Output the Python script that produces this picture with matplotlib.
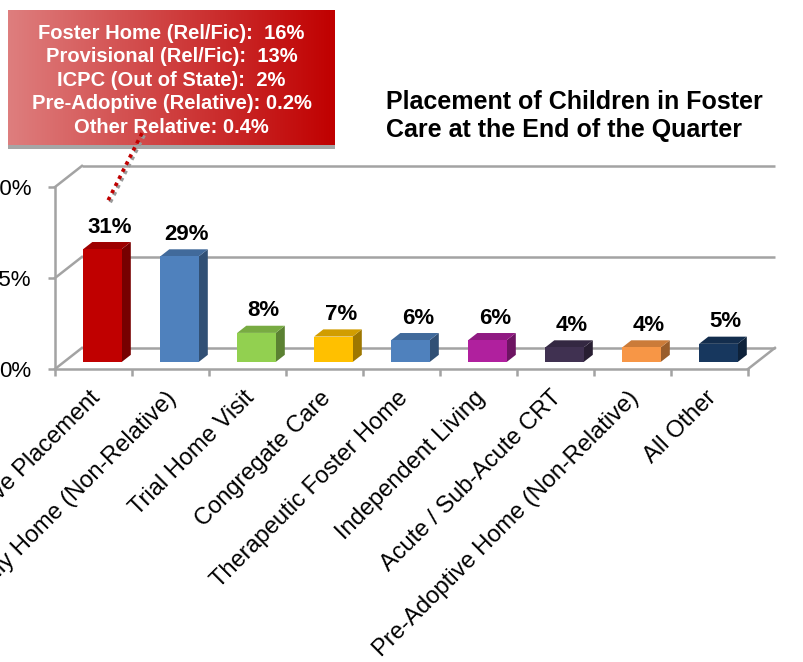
import numpy as np
import matplotlib
matplotlib.use("Agg")
import matplotlib.pyplot as plt
import matplotlib.patheffects as pe
from matplotlib.patches import Polygon, Rectangle
from matplotlib.colors import to_rgb

plt.rcParams['font.family'] = ['Liberation Sans', 'DejaVu Sans']

# data
categories = ['Relative Placement', 'Foster Family Home (Non-Relative)', 'Trial Home Visit',
              'Congregate Care', 'Therapeutic Foster Home', 'Independent Living',
              'Acute / Sub-Acute CRT', 'Pre-Adoptive Home (Non-Relative)', 'All Other']
values = [31, 29, 8, 7, 6, 6, 4, 4, 5]
bar_colors = ['#C00000', '#4F81BD', '#92D050', '#FFC000', '#4F81BD',
              '#B0209E', '#403151', '#F79646', '#17375E']
yticks = [0, 25, 50]
ytick_labels = ['0%', '25%', '50%']
title = 'Placement of Children in Foster\nCare at the End of the Quarter'
callout_lines = ['Foster Home (Rel/Fic):  16%', 'Provisional (Rel/Fic):  13%',
                 'ICPC (Out of State):  2%', 'Pre-Adoptive (Relative): 0.2%',
                 'Other Relative: 0.4%']

# 3d look: depth offset of the back wall (category units, percent units)
DX, DY = 0.35, 5.8
d0, d1 = 0.33, 0.67
bar_w = 0.5
grid_col = '#A3A3A3'

fig = plt.figure(figsize=(8.04, 6.62), dpi=100)
W, H = 804, 662

# callout box with gradient
shadow = Rectangle((8 / W, 1 - 149 / H), 327 / W, 135 / H, transform=fig.transFigure,
                   facecolor='#A6A6A6', edgecolor='none', zorder=-1)
fig.patches.append(shadow)
cax = fig.add_axes([8 / W, 1 - 145 / H, 327 / W, 135 / H], zorder=0)
c0 = np.array([222, 126, 126]) / 255
c1 = np.array([192, 0, 0]) / 255
t = np.linspace(0, 1, 256)[None, :, None]
grad = c0 + (c1 - c0) * t
cax.imshow(grad, aspect='auto', extent=[0, 1, 0, 1])
cax.set_axis_off()
cax.text(0.5, 0.48, '\n'.join(callout_lines), ha='center', va='center', color='white',
         fontsize=14.5, fontweight='bold', linespacing=1.3, transform=cax.transAxes)

ax = fig.add_axes([55 / W, 293 / H, 693 / W, 182 / H], zorder=1)
ax.patch.set_visible(False)
ax.set_xlim(-0.5, 8.5)
ax.set_ylim(0, 50)

# back wall gridlines and side diagonals
for yv in yticks:
    ax.plot([-0.5 + DX, 8.5 + DX], [yv + DY, yv + DY], color=grid_col, lw=1.8,
            clip_on=False, zorder=1, solid_capstyle='butt')
    ax.plot([-0.5, -0.5 + DX], [yv, yv + DY], color=grid_col, lw=1.8, clip_on=False, zorder=1)
ax.plot([8.5, 8.5 + DX], [0, DY], color=grid_col, lw=1.8, clip_on=False, zorder=1)


def shade(c, f):
    return tuple(np.array(to_rgb(c)) * f)


for i, (v, c) in enumerate(zip(values, bar_colors)):
    xl = i - bar_w / 2 + d0 * DX
    xr = xl + bar_w
    yb = d0 * DY
    yt = v + d0 * DY
    ddx, ddy = (d1 - d0) * DX, (d1 - d0) * DY
    front = Polygon([(xl, yb), (xr, yb), (xr, yt), (xl, yt)], closed=True,
                    facecolor=c, edgecolor='none', zorder=3, clip_on=False)
    top = Polygon([(xl, yt), (xr, yt), (xr + ddx, yt + ddy), (xl + ddx, yt + ddy)], closed=True,
                  facecolor=shade(c, 0.82), edgecolor='none', zorder=3, clip_on=False)
    side = Polygon([(xr, yb), (xr + ddx, yb + ddy), (xr + ddx, yt + ddy), (xr, yt)], closed=True,
                   facecolor=shade(c, 0.62), edgecolor='none', zorder=3, clip_on=False)
    for p in (side, top, front):
        ax.add_patch(p)
    ax.text(i + d1 * DX * 0.9, v + d1 * DY + 1.2, f'{v}%', ha='center', va='bottom',
            fontsize=16, fontweight='bold', color='black', zorder=4)

# axes frame
for s in ['top', 'right']:
    ax.spines[s].set_visible(False)
for s in ['left', 'bottom']:
    ax.spines[s].set_color(grid_col)
    ax.spines[s].set_linewidth(1.8)
ax.set_yticks(yticks)
ax.set_yticklabels(ytick_labels, fontsize=16)
ax.tick_params(axis='y', length=5, width=1.8, color=grid_col, pad=12)
# labels sit a little left of the category centre
ax.set_xticks(np.arange(len(categories)) - 0.06)
ax.set_xticklabels(categories, fontsize=17, rotation=45, ha='right', va='top',
                   rotation_mode='anchor')
ax.set_xticks(np.arange(len(categories) + 1) - 0.5, minor=True)
ax.tick_params(axis='x', which='major', length=0, pad=13)
ax.tick_params(axis='x', which='minor', length=5, width=1.8, color=grid_col)

# connector from callout to first bar
ax.plot([0.63, 0.17], [64.8, 45.5], color='#C00000', lw=2.6, linestyle=(0, (1, 1.2)),
        clip_on=False, zorder=5,
        path_effects=[pe.SimpleLineShadow(offset=(1.5, -1.5), shadow_color='#999999', alpha=1),
                      pe.Normal()])

fig.text(386 / W, 1 - 90 / H, title, ha='left', va='top', fontsize=18, fontweight='bold',
         linespacing=1.22)

fig.savefig('out.png', dpi=100)
